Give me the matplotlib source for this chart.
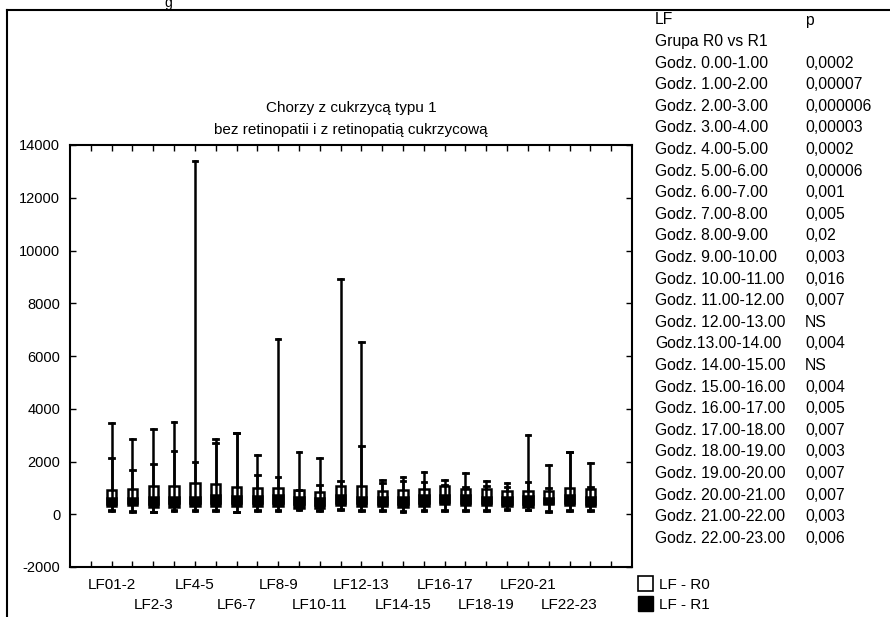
import numpy as np
import matplotlib
matplotlib.use('Agg')
import matplotlib.pyplot as plt
from matplotlib.lines import Line2D
from matplotlib.patches import Patch

plt.rcParams['font.family'] = ['Liberation Sans', 'DejaVu Sans']
plt.rcParams['axes.unicode_minus'] = False

# Categories (hour intervals), only every other label is printed
groups = ['LF01-2', 'LF1-2', 'LF2-3', 'LF3-4', 'LF4-5', 'LF5-6', 'LF6-7', 'LF7-8',
          'LF8-9', 'LF9-10', 'LF10-11', 'LF11-12', 'LF12-13', 'LF13-14', 'LF14-15',
          'LF15-16', 'LF16-17', 'LF17-18', 'LF18-19', 'LF19-20', 'LF20-21', 'LF21-22',
          'LF22-23', 'LF23-24']

# R0 group (open boxes)
r0_max = [3460, 2840, 3220, 3500, 13400, 2870, 3090, 2230, 6640, 2360, 2130, 8930,
          6540, 1300, 1420, 1620, 1310, 1550, 1270, 1170, 3020, 1850, 2370, 1940]
r0_q3 = [910, 975, 1060, 1060, 1200, 1140, 1040, 1000, 1000, 910, 835, 1090,
         1060, 875, 910, 940, 1060, 975, 960, 875, 875, 875, 1010, 975]
r0_med = [560, 540, 580, 590, 600, 620, 600, 580, 600, 540, 500, 610,
          580, 560, 560, 600, 620, 600, 560, 540, 560, 520, 600, 560]
r0_q1 = [400, 420, 400, 410, 420, 430, 420, 410, 420, 380, 360, 430,
         410, 400, 390, 410, 450, 420, 410, 390, 400, 420, 420, 400]
r0_min = [150, 120, 100, 150, 150, 150, 100, 150, 150, 190, 150, 190,
          150, 150, 110, 150, 150, 150, 150, 190, 170, 110, 150, 150]

# R1 group (filled boxes)
r1_max = [2140, 1690, 1910, 2400, 2000, 2690, 3090, 1490, 1410, 910, 1110, 1260,
          2600, 1170, 1270, 1240, 1100, 1040, 1080, 1020, 1240, 990, 2370, 1040]
r1_q3 = [630, 630, 660, 660, 660, 720, 700, 680, 720, 660, 600, 720,
         660, 660, 660, 720, 720, 720, 660, 660, 680, 600, 720, 660]
r1_med = [460, 480, 470, 470, 480, 510, 500, 490, 510, 450, 410, 530,
          480, 480, 470, 510, 550, 530, 500, 480, 480, 490, 530, 480]
r1_q1 = [300, 340, 280, 280, 300, 300, 300, 300, 300, 240, 220, 340,
         300, 300, 280, 300, 380, 340, 340, 300, 280, 380, 340, 300]
r1_min = [130, 100, 80, 130, 130, 130, 80, 130, 130, 180, 130, 180,
          130, 130, 90, 130, 130, 130, 130, 180, 150, 90, 130, 130]

# Table of p-values
table_lf = ['Godz. 0.00-1.00', 'Godz. 1.00-2.00', 'Godz. 2.00-3.00', 'Godz. 3.00-4.00',
            'Godz. 4.00-5.00', 'Godz. 5.00-6.00', 'Godz. 6.00-7.00', 'Godz. 7.00-8.00',
            'Godz. 8.00-9.00', 'Godz. 9.00-10.00', 'Godz. 10.00-11.00', 'Godz. 11.00-12.00',
            'Godz. 12.00-13.00', 'Godz.13.00-14.00', 'Godz. 14.00-15.00', 'Godz. 15.00-16.00',
            'Godz. 16.00-17.00', 'Godz. 17.00-18.00', 'Godz. 18.00-19.00', 'Godz. 19.00-20.00',
            'Godz. 20.00-21.00', 'Godz. 21.00-22.00', 'Godz. 22.00-23.00']
table_p = ['0,0002', '0,00007', '0,000006', '0,00003', '0,0002', '0,00006', '0,001',
           '0,005', '0,02', '0,003', '0,016', '0,007', 'NS', '0,004', 'NS', '0,004',
           '0,005', '0,007', '0,003', '0,007', '0,007', '0,003', '0,006']


def make_stats(mx, q3, med, q1, mn):
    return [dict(whishi=a, q3=b, med=c, q1=d, whislo=e, fliers=[])
            for a, b, c, d, e in zip(mx, q3, med, q1, mn)]


W, H = 890, 617
fig = plt.figure(figsize=(W / 100, H / 100), dpi=100)
ax = fig.add_axes([70 / W, 1 - 567 / H, 562 / W, 422 / H])

pos = np.arange(1, len(groups) + 1)
common = dict(positions=pos, widths=0.45, patch_artist=True, showfliers=False,
              capwidths=0.22, manage_ticks=False,
              whiskerprops=dict(color='black', linewidth=1.8),
              capprops=dict(color='black', linewidth=2.0),
              medianprops=dict(color='black', linewidth=1.0))
ax.bxp(make_stats(r0_max, r0_q3, r0_med, r0_q1, r0_min),
       boxprops=dict(facecolor='white', edgecolor='black', linewidth=1.8), **common)
ax.bxp(make_stats(r1_max, r1_q3, r1_med, r1_q1, r1_min),
       boxprops=dict(facecolor='black', edgecolor='black', linewidth=1.8), **common)

ax.set_xlim(-1, 26)
ax.set_ylim(-2000, 14000)
ax.set_yticks(np.arange(-2000, 14001, 2000))

# x tick labels: every other category, staggered on two rows
ticks = np.arange(0, 26)
row1 = [t for t in ticks if 1 <= t <= 24 and t % 4 == 1]
row2 = [t for t in ticks if 1 <= t <= 24 and t % 4 == 3]
ax.set_xticks(ticks)
ax.set_xticklabels([groups[t - 1] if t in row1 else '' for t in ticks])

sec = ax.secondary_xaxis('bottom')
sec.set_xticks(row2)
sec.set_xticklabels([groups[t - 1] for t in row2])
sec.tick_params(length=0, labelsize=11, pad=22)
sec.spines['bottom'].set_visible(False)

ax.tick_params(direction='in', length=4, width=1, top=True, right=True,
               labelsize=11, pad=8)
ax.tick_params(axis='y', labelsize=10.5, pad=7)
for sp in ax.spines.values():
    sp.set_linewidth(1.5)

# Title
fig.text(351 / W, 1 - 108 / H, 'Chorzy z cukrzycą typu 1', ha='center', va='center', fontsize=11)
fig.text(351 / W, 1 - 130 / H, 'bez retinopatii i z retinopatią cukrzycową',
         ha='center', va='center', fontsize=11)

# Table at right
fs = 11.3
row_y = lambda i: 1 - (20 + 21.6 * i) / H
fig.text(655 / W, row_y(0), 'LF', va='center', fontsize=fs)
fig.text(805 / W, row_y(0), 'p', va='center', fontsize=fs)
fig.text(655 / W, row_y(1), 'Grupa R0 vs R1', va='center', fontsize=fs)
for i, (lf, p) in enumerate(zip(table_lf, table_p)):
    fig.text(655 / W, row_y(i + 2), lf, va='center', fontsize=fs)
    fig.text(805 / W, row_y(i + 2), p, va='center', fontsize=fs)

# Legend
handles = [Patch(facecolor='white', edgecolor='black', linewidth=1.2),
           Patch(facecolor='black', edgecolor='black')]
fig.legend(handles, ['LF - R0', 'LF - R1'], loc='upper left',
           bbox_to_anchor=(635 / W, 1 - 573 / H), frameon=False, fontsize=11,
           handlelength=1.0, handleheight=1.1, handletextpad=0.4, labelspacing=0.3,
           borderaxespad=0, borderpad=0.2)

# Outer frame of the scanned figure
fig.add_artist(Line2D([7 / W, 1], [1 - 10 / H, 1 - 10 / H], color='black', linewidth=1.5,
                      transform=fig.transFigure))
fig.add_artist(Line2D([7 / W, 7 / W], [0, 1 - 10 / H], color='black', linewidth=1.5,
                      transform=fig.transFigure))
fig.text(168 / W, 1 - 3 / H, 'g', ha='center', va='center', fontsize=10)

fig.savefig('out.png', dpi=100)
